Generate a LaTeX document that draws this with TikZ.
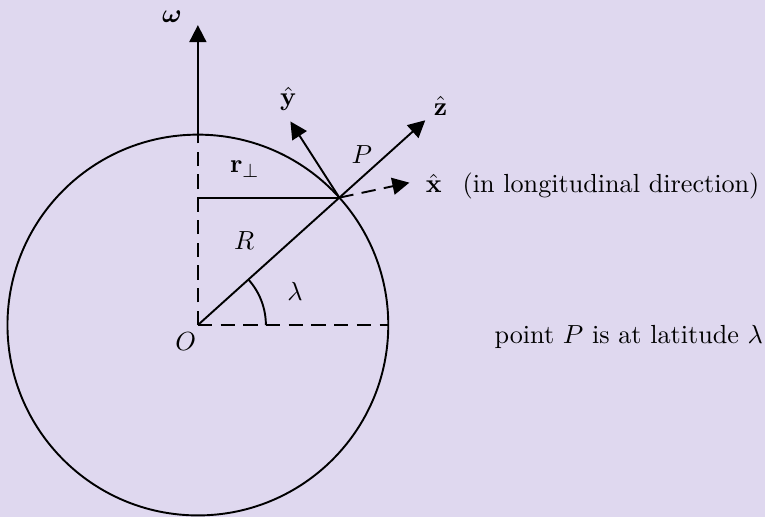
\documentclass[tikz,border=0pt,11pt]{standalone}
\usepackage{amsmath}
\usepackage{bm}
\usetikzlibrary{arrows.meta, calc}
\definecolor{bgpurple}{RGB}{223,216,239}

\begin{document}
\begin{tikzpicture}[scale = 1, thick, >={Triangle[length=2.5mm, width=2.5mm]},
    dashline/.style = {dash pattern=on 6pt off 3.5pt}]
    \useasboundingbox (-2.91, -2.82) rectangle (8.34, 4.78);
    \fill[bgpurple] (-2.91, -2.82) rectangle (8.34, 4.78);

    \coordinate (O) at (0, 0);
    \coordinate (P) at (42:2.8);
    \coordinate (N) at (0, 2.8);
    \coordinate (E) at (2.8, 0);
    \coordinate (Pax) at (0, {2.8*sin(42)});
    \coordinate (wtip) at (0, 4.41);
    \coordinate (ztip) at (42:4.5);
    \coordinate (ytip) at ($(P) + (-0.72, 1.12)$);
    \coordinate (xtip) at ($(P) + (1.03, 0.22)$);

    \draw (O) circle (2.8);
    \draw[->] (N) -- (wtip);
    \draw[dashline] (O) -- (N);
    \draw[dashline] (O) -- (E);
    \draw (Pax) -- (P);
    \draw[->] (O) -- (ztip);
    \draw[->] (P) -- (ytip);
    \draw[dashline, ->] (P) -- (xtip);
    \draw (1, 0) arc (0:42:1);

    \node (w) at (-0.38, 4.54) {$\bm{\omega}$};
    \node (O label) at (-0.18, -0.24) {$O$};
    \node (P label) at (2.41, 2.51) {$P$};
    \node (R label) at (0.68, 1.24) {$R$};
    \node (lam) at (1.43, 0.49) {$\lambda$};
    \node (rperp) at (0.69, 2.29) {$\mathbf{r}_\perp$};
    \node (zhat) at (3.57, 3.22) {$\hat{\mathbf{z}}$};
    \node (yhat) at (1.33, 3.32) {$\hat{\mathbf{y}}$};
    \node[anchor=west] (xhat) at (3.21, 2.04) {$\hat{\mathbf{x}}$\hspace{0.8em}(in longitudinal direction)};
    \node[anchor=base west] (latnote) at (4.22, -0.265) {point $P$ is at latitude $\lambda$};
\end{tikzpicture}
\end{document}
